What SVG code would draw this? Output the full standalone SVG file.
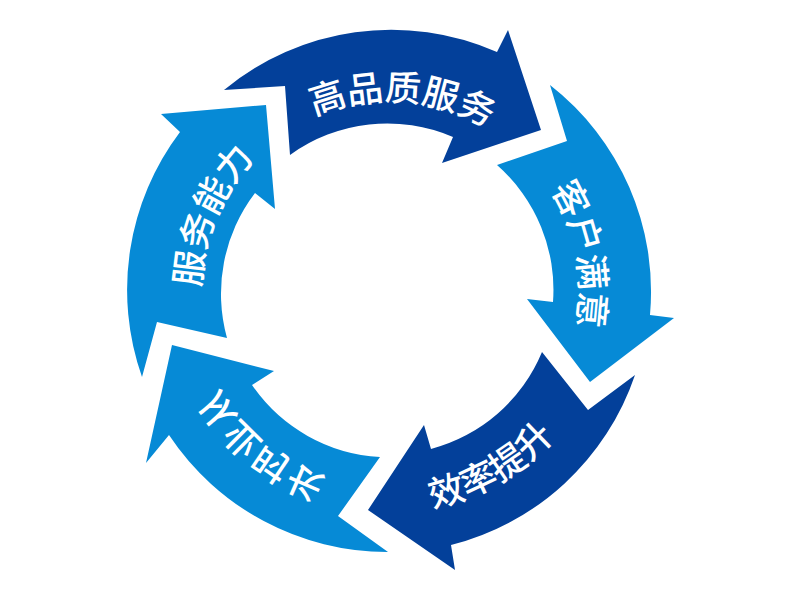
<svg xmlns="http://www.w3.org/2000/svg" xmlns:xlink="http://www.w3.org/1999/xlink" width="800" height="600" viewBox="0 0 800 600">
<style>
.dark{fill:#03409A}
.light{fill:#068AD6}
.lbl{fill:#ffffff;font-family:"Noto Sans CJK SC","Noto Sans",sans-serif;font-size:36px;font-weight:500}
</style>
<defs>
<path id="pA" d="M204.6,245 A190,190 0 0 1 578,271.1"/>
<path id="pB" d="M386.3,100 A191,191 0 0 1 456.8,469.5"/>
<path id="pC" d="M219.7,433.1 A221,221 0 0 0 596.7,215.4"/>
<path id="pD" d="M516.3,440 A196,196 0 0 1 218.4,194.5"/>
<path id="pE" d="M314,467.7 A192,192 0 0 1 464,114.3"/>
</defs>
<rect width="800" height="600" fill="#ffffff"/>
<g id="node-quality">
<path class="dark" d="M224,90 A262,262 0 0 1 497,52 L508,30 L541,130 L442,163 L453,137 A166,166 0 0 0 290,155 L285,86 Z"/>
<text class="lbl"><textPath xlink:href="#pA" href="#pA" startOffset="50%" text-anchor="middle">高品质服务</textPath></text>
</g>
<g id="node-satisfaction">
<path class="light" d="M550,85 A262,262 0 0 1 650,315 L674,318 L590,382 L527,299 L553,302 A166,166 0 0 0 497,165 L567,141 Z"/>
<text class="lbl"><textPath xlink:href="#pB" href="#pB" startOffset="50%" text-anchor="middle">客户满意</textPath></text>
</g>
<g id="node-efficiency">
<path class="dark" d="M635,375 A262,262 0 0 1 451,545 L455,570 L368,510 L424,425 L431,449 A166,166 0 0 0 542,352 L588,410 Z"/>
<text class="lbl"><textPath xlink:href="#pC" href="#pC" startOffset="50%" text-anchor="middle">效率提升</textPath></text>
</g>
<g id="node-experience">
<path class="light" d="M388,552 A262,262 0 0 1 169,435 L146,463 L172,345 L274,371 L252,385 A166,166 0 0 0 380,457 L338,516 Z"/>
<g transform="translate(389 291) rotate(129.5) scale(1 -1) rotate(-129.5) translate(-389 -291)">
<text class="lbl"><textPath xlink:href="#pD" href="#pD" startOffset="50%" text-anchor="middle">从业时长</textPath></text>
</g>
</g>
<g id="node-capability">
<path class="light" d="M142,377 A262,262 0 0 1 180,132 L161,114 L266,105 L275,209 L255,193 A166,166 0 0 0 227,338 L157,322 Z"/>
<text class="lbl"><textPath xlink:href="#pE" href="#pE" startOffset="50%" text-anchor="middle">服务能力</textPath></text>
</g>
</svg>
